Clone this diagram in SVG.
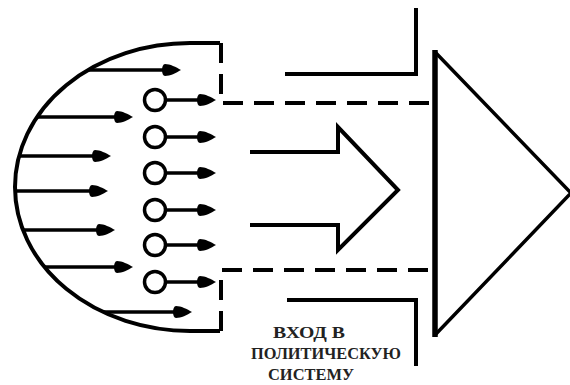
<svg xmlns="http://www.w3.org/2000/svg" width="570" height="385" viewBox="0 0 570 385">
<style>
.ln{fill:none;stroke:#000;stroke-width:4;stroke-linecap:butt;stroke-linejoin:miter}
.dash{fill:none;stroke:#000;stroke-width:4;stroke-dasharray:20 11}
.circ{fill:#fff;stroke:#000;stroke-width:3.5}
.ar{fill:none;stroke:#000;stroke-width:3.5}
.lbl{font-family:"Liberation Serif","Times New Roman",serif;font-weight:bold;font-size:17px;fill:#222;text-anchor:middle}
</style>
<defs>
<path id="head" d="M0,0 C-5,-3 -11,-6 -16,-6 C-20,-6 -20,6 -16,6 C-11,6 -5,3 0,0Z" fill="#000"/>
</defs>
<rect width="570" height="385" fill="#fff"/>
<g id="source">
<path class="ln" d="M220,43 L190,43 A175,144 0 0 0 190,331 L220,331"/>
</g>
<g id="boundary">
<path class="dash" d="M221,43 L221,103 L435,103"/>
<path class="dash" d="M221,331 L221,270 L435,270"/>
</g>
<g id="connectors">
<line class="ar" x1="88" y1="70" x2="170" y2="70"/><use href="#head" x="181" y="70"/>
<line class="ar" x1="38" y1="117" x2="122" y2="117"/><use href="#head" x="133" y="117"/>
<line class="ar" x1="20" y1="156" x2="100" y2="156"/><use href="#head" x="111" y="156"/>
<line class="ar" x1="15" y1="191" x2="97" y2="191"/><use href="#head" x="108" y="191"/>
<line class="ar" x1="24" y1="230" x2="104" y2="230"/><use href="#head" x="115" y="230"/>
<line class="ar" x1="45" y1="267" x2="122" y2="267"/><use href="#head" x="133" y="267"/>
<line class="ar" x1="104" y1="312" x2="181" y2="312"/><use href="#head" x="192" y="312"/>
<line class="ar" x1="166" y1="100" x2="205" y2="100"/><use href="#head" x="216" y="100"/>
<line class="ar" x1="166" y1="137" x2="205" y2="137"/><use href="#head" x="216" y="137"/>
<line class="ar" x1="166" y1="173" x2="205" y2="173"/><use href="#head" x="216" y="173"/>
<line class="ar" x1="166" y1="210" x2="205" y2="210"/><use href="#head" x="216" y="210"/>
<line class="ar" x1="166" y1="245" x2="205" y2="245"/><use href="#head" x="216" y="245"/>
<line class="ar" x1="166" y1="282" x2="205" y2="282"/><use href="#head" x="216" y="282"/>
</g>
<g id="demands">
<circle class="circ" cx="155" cy="100" r="10.5"/>
<circle class="circ" cx="155" cy="137" r="10.5"/>
<circle class="circ" cx="155" cy="173" r="10.5"/>
<circle class="circ" cx="155" cy="210" r="10.5"/>
<circle class="circ" cx="155" cy="245" r="10.5"/>
<circle class="circ" cx="155" cy="282" r="10.5"/>
</g>
<g id="big-arrow">
<path class="ln" d="M250,152 L338,152 L338,127 L398,190 L338,250 L338,225 L250,225"/>
</g>
<g id="brackets">
<path class="ln" d="M285,74 L416,74 L416,8"/>
<path class="ln" d="M287,300 L416,300 L416,366"/>
</g>
<g id="system">
<line x1="435" y1="50" x2="435" y2="337" stroke="#000" stroke-width="5.5"/>
<path d="M435,52 L571,193 L435,335" fill="none" stroke="#000" stroke-width="3.5"/>
</g>
<g id="label">
<text class="lbl" x="309" y="338" textLength="72" lengthAdjust="spacingAndGlyphs">ВХОД В</text>
<text class="lbl" x="326" y="359" textLength="150" lengthAdjust="spacingAndGlyphs">ПОЛИТИЧЕСКУЮ</text>
<text class="lbl" x="311" y="380" textLength="86" lengthAdjust="spacingAndGlyphs">СИСТЕМУ</text>
</g>
</svg>
